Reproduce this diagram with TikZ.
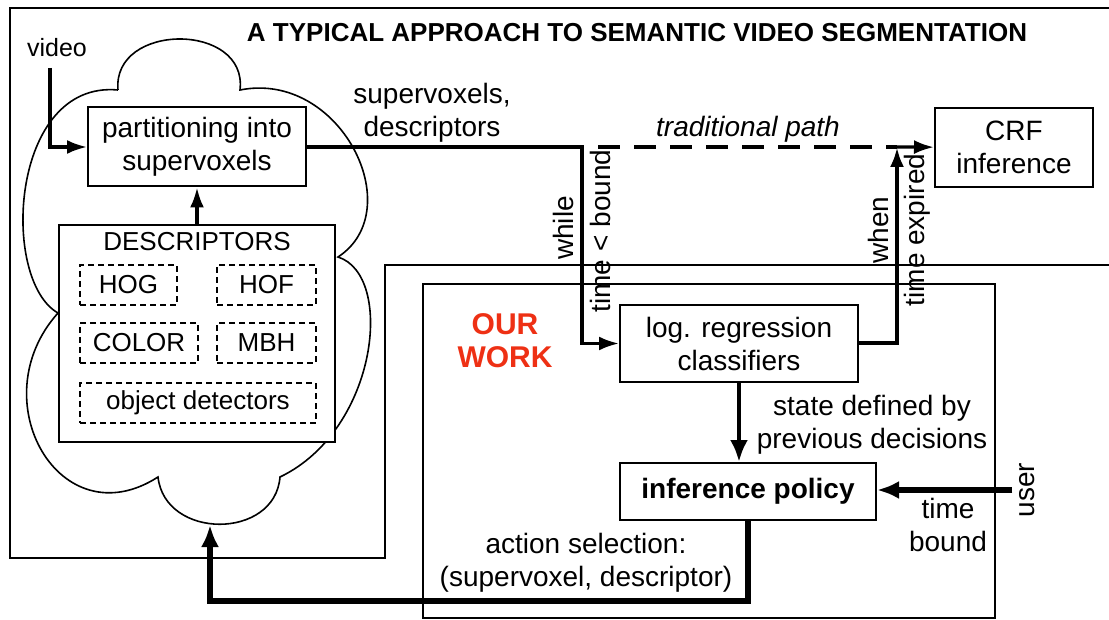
\documentclass[tikz,border=0pt]{standalone}
\usepackage{fontspec}
\setmainfont{Liberation Sans}
\usetikzlibrary{arrows.meta}
\definecolor{workred}{RGB}{238,48,20}

\begin{document}
\begin{tikzpicture}[x=0.5pt,y=-0.5pt,font=\fontsize{14}{16.5}\selectfont,
  box/.style={draw,line width=1pt,inner sep=0pt,align=center},
  feat/.style={draw,dash pattern=on 3pt off 2pt,line width=0.6pt,inner sep=0pt,font=\fontsize{13}{15}\selectfont},
  flow/.style={line width=1.6pt,-{Latex[length=10pt,width=7pt]}},
  bigflow/.style={line width=2.6pt,-{Latex[length=11pt,width=9pt]}},
  frame/.style={line width=1pt}]
\useasboundingbox (0,0) rectangle (1109,620);
% frames
\draw[frame] (1109,8) -- (10,8) -- (10,558) -- (385,558) -- (385,265) -- (1109,265);
\draw[frame] (423,284) rectangle (995,618);
% cloud
\draw[line width=0.8pt] (118,90) .. controls (112,22) and (248,22) .. (240,90)
  .. controls (340,70) and (410,210) .. (338,257)
  .. controls (395,275) and (378,430) .. (280,477)
  .. controls (275,540) and (165,540) .. (158,477)
  .. controls (60,540) and (-20,400) .. (58,313)
  .. controls (0,280) and (10,80) .. (118,90);
\coordinate (cloudin) at (210,525);
\node (title) at (637,33) [font=\fontsize{13}{15}\selectfont\bfseries] {A TYPICAL APPROACH TO SEMANTIC VIDEO SEGMENTATION};
\node (video) at (57,48) [font=\fontsize{12.5}{15}\selectfont] {video};
\coordinate (vidin) at (50,68);
\node (part) at (197,147) [box,fill=white,minimum width=109pt,minimum height=39.5pt] {partitioning into\\supervoxels};
\node (desc) at (197,333.5) [box,fill=white,minimum width=138pt,minimum height=108.5pt] {};
\node (desctitle) at (197,242) [font=\fontsize{13}{15}\selectfont] {DESCRIPTORS};
\node (hog) at (128.5,285) [feat,minimum width=48.5pt,minimum height=20pt] {HOG};
\node (hof) at (266.5,285) [feat,minimum width=49.5pt,minimum height=20pt] {HOF};
\node (color) at (139,343) [feat,minimum width=59pt,minimum height=20pt] {COLOR};
\node (mbh) at (266.5,343) [feat,minimum width=49.5pt,minimum height=20pt] {MBH};
\node (objdet) at (198,403) [feat,minimum width=118pt,minimum height=20pt] {object detectors};
\node (crf) at (1014,147.5) [box,minimum width=79pt,minimum height=39.5pt] {CRF\\inference};
\node (logreg) at (739,343.5) [box,minimum width=119pt,minimum height=38.5pt] {log. regression\\classifiers};
\node (policy) at (748,491.5) [box,minimum width=128pt,minimum height=28.5pt,font=\fontsize{14}{16.5}\selectfont\bfseries] {inference policy};
\node (ourwork) at (505,341) [align=center,text=workred,font=\fontsize{15}{16.5}\selectfont\bfseries] {OUR\\WORK};
% labels
\node (svlabel) at (432,113) [align=center] {supervoxels,\\descriptors};
\node (tradpath) at (748,129) [font=\fontsize{14}{16.5}\selectfont\itshape] {traditional path};
\node (while) at (563,228) [rotate=90] {while};
\node (tltbound) at (600,231) [rotate=90] {time < bound};
\node (when) at (878,230) [rotate=90] {when};
\node (texpired) at (917,230) [rotate=90] {time expired};
\node (state) at (872,425) [align=center] {state defined by\\previous decisions};
\node (user) at (1027,490) [rotate=90] {user};
\node (tbound) at (948,525) [align=center] {time\\bound};
\node (action) at (586,563) [align=center] {action selection:\\(supervoxel, descriptor)};
% connectors
\coordinate (split) at (582,147);
\coordinate (merge) at (897,147);
\draw[flow] (vidin) |- (part);
\draw[flow] (desc) -- (part);
\draw[line width=2pt] (part) -- (split);
\draw[line width=2pt,dash pattern=on 11pt off 7pt,dash phase=-8pt] (split) -- (merge);
\draw[flow] (merge) -- (crf);
\draw[flow] (split) |- (logreg);
\draw[flow,line width=2pt] (logreg) -| (merge);
\draw[bigflow,line width=2.2pt] (logreg.south) -- (logreg.south |- policy.north);
\draw[bigflow] (user) -- (user -| policy.east);
\draw[bigflow,line width=3pt] (policy.south) -- ++(0,80) -| (cloudin);
\end{tikzpicture}
\end{document}
